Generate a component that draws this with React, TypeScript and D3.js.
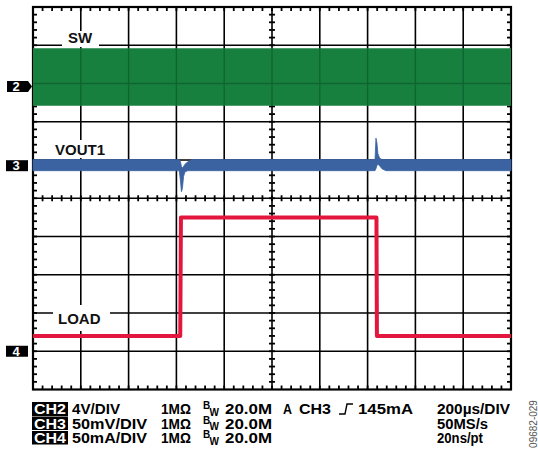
import React from "react";
import * as d3 from "d3";

// ---- data (time in µs) ----
const TIME_SPAN = 2000; // 10 div x 200 µs
// CH2 SW (V) envelope
const swTime = [0, 2000];
const swHigh = [4.0, 4.0];
const swLow = [-2.0, -2.0];
// CH3 VOUT1 (mV) envelope
const voutTime = [0, 612, 617, 621, 625, 630, 636, 648, 665, 1431, 1435, 1439, 1443, 1450, 1460, 1477, 2000];
const voutHigh = [8, 8, 5, -1, -3, -1, 2, 5, 8, 8, 36, 30, 16, 10, 8, 8, 8];
const voutLow = [-6.5, -6.5, -20, -34, -30, -14, -8, -6.5, -6.5, -6.5, -4, 0, 2, 0, -4, -6.5, -6.5];
// CH4 LOAD (mA)
const loadTime = [0, 616, 619, 1437, 1439, 2000];
const loadValue = [20, 20, 175, 175, 20, 20];

// channel settings
const chNames = ["CH2", "CH3", "CH4"];
const chScales = ["4V/DIV", "50mV/DIV", "50mA/DIV"];
const chImpedance = ["1MΩ", "1MΩ", "1MΩ"];
const chBandwidth = ["20.0M", "20.0M", "20.0M"];
const triggerText = ["A", "CH3", "145mA"];
const timebaseText = ["200µs/DIV", "50MS/s", "20ns/pt"];
const traceLabels = ["SW", "VOUT1", "LOAD"];
const markerLabels = ["2", "3", "4"];
const figureId = "09682-029";

const FONT = "'Liberation Sans', Arial, Helvetica, sans-serif";

export default function App() {
  const W = 538, H = 462;
  const X0 = 33, X1 = 511, Y0 = 7, Y1 = 389.5;
  const x = d3.scaleLinear().domain([0, TIME_SPAN]).range([X0, X1]);
  const yDiv = d3.scaleLinear().domain([-5, 5]).range([Y1, Y0]);
  const chY = (perDiv: number, offset: number) => (v: number) => yDiv(v / perDiv + offset);
  const y2 = chY(4, 2.92);
  const y3 = chY(50, 0.851);
  const y4 = chY(50, -4);

  const swArea = d3.area<number>()
    .x((_, i) => x(swTime[i]))
    .y0((_, i) => y2(swLow[i]))
    .y1((_, i) => y2(swHigh[i]))(swTime) as string;
  const voutArea = d3.area<number>()
    .x((_, i) => x(voutTime[i]))
    .y0((_, i) => y3(voutLow[i]))
    .y1((_, i) => y3(voutHigh[i]))(voutTime) as string;
  const loadLine = d3.line<number>()
    .x((_, i) => x(loadTime[i]))
    .y((_, i) => y4(loadValue[i]))(loadTime) as string;

  const xc = x(TIME_SPAN / 2);
  const yc = yDiv(0);
  const vLines = d3.range(1, 10).map((i) => x((i * TIME_SPAN) / 10));
  const hLines = d3.range(-4, 5).map((d) => yDiv(d));
  const xMinor = d3.range(1, 50).map((k) => x((k * TIME_SPAN) / 50));
  const yMinor = d3.range(1, 50).map((k) => yDiv(-5 + k / 5));

  const markers = [
    { label: markerLabels[0], y: y2(0), arrow: true },
    { label: markerLabels[1], y: y3(0), arrow: false },
    { label: markerLabels[2], y: y4(0), arrow: false },
  ];

  const rows = [414, 428.5, 443];

  return (
    <svg width={W} height={H} style={{ position: "absolute", left: 0, top: 0, background: "#fff" }} fontFamily={FONT}>
      <defs>
        <clipPath id="swClip"><path d={swArea} /></clipPath>
      </defs>
      <rect x={0} y={0} width={W} height={H} fill="#fff" />
      {/* grid */}
      <g stroke="#000" strokeWidth={1.6}>
        {vLines.map((v, i) => <line key={"v" + i} x1={v} x2={v} y1={Y0} y2={Y1} />)}
        {hLines.map((h, i) => <line key={"h" + i} x1={X0} x2={X1} y1={h} y2={h} />)}
      </g>
      <g stroke="#000" strokeWidth={1.8}>
        {xMinor.map((v, i) => (
          <g key={"xm" + i}>
            <line x1={v} x2={v} y1={Y0} y2={Y0 + 4} />
            <line x1={v} x2={v} y1={Y1 - 4} y2={Y1} />
            <line x1={v} x2={v} y1={yc - 3} y2={yc + 3} />
          </g>
        ))}
        {yMinor.map((h, i) => (
          <g key={"ym" + i}>
            <line x1={X0} x2={X0 + 4} y1={h} y2={h} />
            <line x1={X1 - 4} x2={X1} y1={h} y2={h} />
            <line x1={xc - 3} x2={xc + 3} y1={h} y2={h} />
          </g>
        ))}
      </g>
      <rect x={X0} y={Y0} width={X1 - X0} height={Y1 - Y0} fill="none" stroke="#000" strokeWidth={2.2} />

      {/* label boxes */}
      <rect x={62} y={31} width={37} height={16} fill="#fff" />
      <rect x={50} y={140} width={60} height={18} fill="#fff" />
      <rect x={53} y={305} width={57} height={26} fill="#fff" />

      {/* traces */}
      <path d={swArea} fill="#18803f" />
      <g clipPath="url(#swClip)" stroke="#0f6530" strokeWidth={1.4}>
        {vLines.map((v, i) => <line key={"sv" + i} x1={v} x2={v} y1={Y0} y2={Y1} />)}
        {hLines.map((h, i) => <line key={"sh" + i} x1={X0} x2={X1} y1={h} y2={h} />)}
      </g>
      <path d={voutArea} fill="#3b63a2" stroke="#3b63a2" strokeWidth={0.8} />
      <path d={loadLine} fill="none" stroke="#e3173e" strokeWidth={4} strokeLinejoin="round" />

      {/* trace labels */}
      <g fontWeight="bold" fontSize={15} fill="#111">
        <text x={68} y={43}>{traceLabels[0]}</text>
        <text x={55} y={155}>{traceLabels[1]}</text>
        <text x={58} y={324}>{traceLabels[2]}</text>
      </g>

      {/* channel markers */}
      {markers.map((m) => (
        <g key={m.label}>
          <path
            d={m.arrow
              ? `M7,${m.y - 5.5}H28L32,${m.y}L28,${m.y + 5.5}H7Z`
              : `M6,${m.y - 5.5}H28V${m.y + 5.5}H6Z`}
            fill="#000"
          />
          <text x={16} y={m.y + 4.5} fill="#fff" fontWeight="bold" fontSize={13} textAnchor="middle">{m.label}</text>
        </g>
      ))}

      {/* bottom settings */}
      <g fontWeight="bold" fontSize={14} fill="#000">
        {rows.map((ry, i) => (
          <g key={"r" + i}>
            <rect x={32} y={ry - 12} width={36} height={i === 0 ? 14 : 13.5} fill="#000" />
            <text x={34} y={ry} fill="#fff" textLength={32} lengthAdjust="spacingAndGlyphs">{chNames[i]}</text>
            <text x={72} y={ry} textLength={i === 0 ? 48 : 75} lengthAdjust="spacingAndGlyphs">{chScales[i]}</text>
            <text x={161} y={ry} textLength={30} lengthAdjust="spacingAndGlyphs">{chImpedance[i]}</text>
            <text x={203} y={ry - 5} fontSize={10}>B</text>
            <text x={209.5} y={ry + 1.5} fontSize={10}>W</text>
            <text x={225} y={ry} textLength={47} lengthAdjust="spacingAndGlyphs">{chBandwidth[i]}</text>
            <text x={437} y={ry} textLength={i === 0 ? 73 : i === 1 ? 51 : 46} lengthAdjust="spacingAndGlyphs">{timebaseText[i]}</text>
          </g>
        ))}
        <text x={283} y={rows[0]} textLength={9} lengthAdjust="spacingAndGlyphs">{triggerText[0]}</text>
        <text x={299} y={rows[0]} textLength={32} lengthAdjust="spacingAndGlyphs">{triggerText[1]}</text>
        <path d={`M339,${rows[0]}H345L347,${rows[0] - 10}H353`} fill="none" stroke="#000" strokeWidth={1.4} />
        <text x={358} y={rows[0]} textLength={55} lengthAdjust="spacingAndGlyphs">{triggerText[2]}</text>
      </g>

      <text transform="translate(537,424) rotate(-90)" textAnchor="middle" fontSize={10} fill="#555">{figureId}</text>
    </svg>
  );
}
